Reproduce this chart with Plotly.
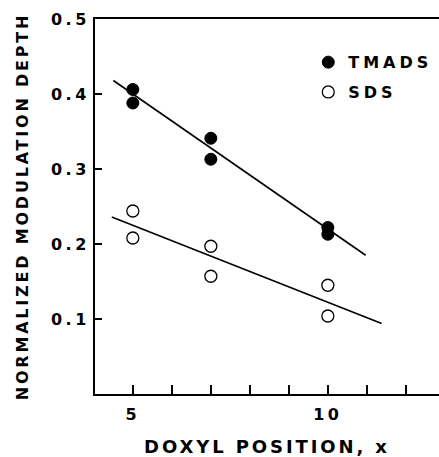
import plotly.graph_objects as go

# Data
tmads_x = [5, 5, 7, 7, 10, 10]
tmads_y = [0.406, 0.388, 0.341, 0.313, 0.222, 0.213]
sds_x = [5, 5, 7, 7, 10, 10]
sds_y = [0.244, 0.208, 0.197, 0.157, 0.145, 0.104]

# Fit-line endpoints
tmads_fit_x = [4.5, 10.97]
tmads_fit_y = [0.418, 0.185]
sds_fit_x = [4.46, 11.38]
sds_fit_y = [0.236, 0.094]

y_ticks = [0.1, 0.2, 0.3, 0.4, 0.5]
y_ticklabels = ["0.1", "0.2", "0.3", "0.4", "0.5"]
x_major = [5, 10]
x_ticklabels = ["5", "10"]
x_minor = [5, 6, 7, 8, 9, 10, 11, 12]

FONT = "DejaVu Sans"


def spaced(s, px):
    return '<span style="letter-spacing:%spx">%s</span>' % (px, s)


fig = go.Figure()

fig.add_trace(go.Scatter(x=tmads_fit_x, y=tmads_fit_y, mode="lines",
                         line=dict(color="black", width=1.6), showlegend=False, hoverinfo="skip"))
fig.add_trace(go.Scatter(x=sds_fit_x, y=sds_fit_y, mode="lines",
                         line=dict(color="black", width=1.6), showlegend=False, hoverinfo="skip"))
fig.add_trace(go.Scatter(x=tmads_x, y=tmads_y, mode="markers", name=spaced("TMADS", 4),
                         legendgroup="a",
                         marker=dict(symbol="circle", size=12, color="black",
                                     line=dict(color="black", width=1))))
fig.add_trace(go.Scatter(x=sds_x, y=sds_y, mode="markers", name=spaced("SDS", 4),
                         legendgroup="b",
                         marker=dict(symbol="circle-open", size=12, color="black",
                                     line=dict(color="black", width=1.3))))

fig.update_layout(
    width=439, height=457,
    margin=dict(l=95, r=0, t=19, b=59),
    paper_bgcolor="white", plot_bgcolor="white",
    font=dict(family=FONT, color="black", size=16, weight="bold"),
    legend=dict(x=0.62, y=0.93, xanchor="left", yanchor="top",
                bgcolor="rgba(0,0,0,0)", font=dict(size=16, family=FONT, weight="bold"),
                itemwidth=30, tracegroupgap=6, traceorder="grouped"),
    showlegend=True,
)
fig.update_xaxes(
    range=[4.03, 12.85], showgrid=False, zeroline=False,
    showline=True, linecolor="black", linewidth=2, mirror=True,
    tickmode="array", tickvals=x_major, ticktext=[spaced(t, 3.5) for t in x_ticklabels],
    ticks="inside", ticklen=9, tickwidth=1.5, tickcolor="black",
    minor=dict(tickmode="array", tickvals=x_minor, ticks="inside", ticklen=9, tickwidth=1.5, tickcolor="black"),
    tickfont=dict(size=16, family=FONT, weight="bold"),
    ticklabelstandoff=5,
    title=dict(text=spaced("DOXYL POSITION, x", 2.9), font=dict(size=18, family=FONT, weight="bold"), standoff=20),
)
fig.update_yaxes(
    range=[0.0, 0.5], showgrid=False, zeroline=False,
    showline=True, linecolor="black", linewidth=2, mirror=False,
    tickmode="array", tickvals=y_ticks, ticktext=[spaced(t, 3.5) for t in y_ticklabels],
    ticks="inside", ticklen=7, tickwidth=1.5, tickcolor="black",
    tickfont=dict(size=16, family=FONT, weight="bold"),
    title=dict(text=spaced("NORMALIZED MODULATION DEPTH", 2.8), font=dict(size=16, family=FONT, weight="bold"), standoff=18),
)

fig.write_html("out.html")
